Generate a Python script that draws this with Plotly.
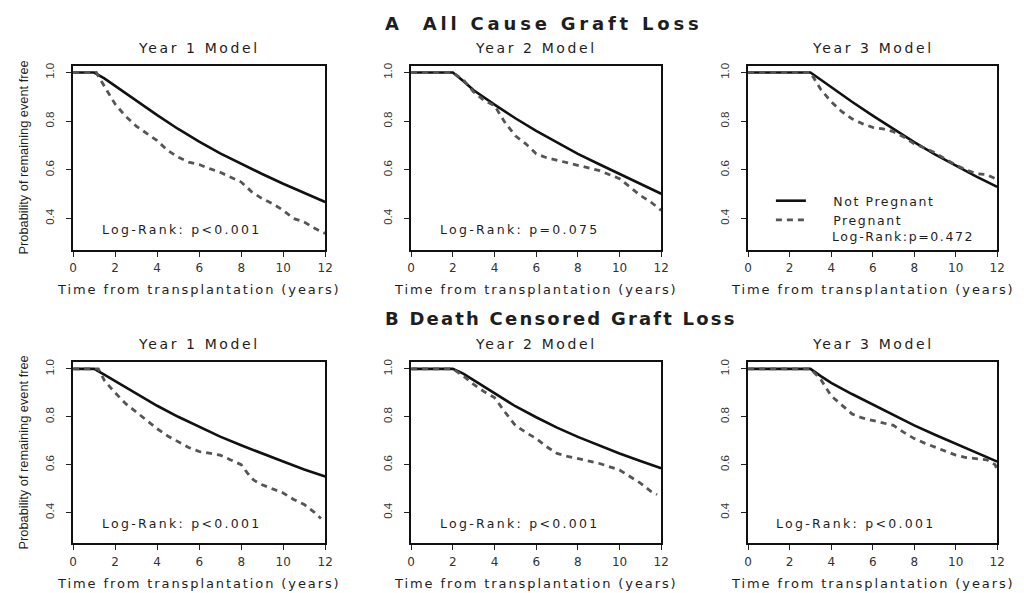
import plotly.graph_objects as go

# ---- Kaplan-Meier style survival estimates (probability of remaining event free) ----
# A: All cause graft loss
a1_not_t = [0, 1, 1.5, 2, 3, 4, 5, 6, 7, 8, 9, 10, 11, 12]
a1_not_s = [1, 1, 0.975, 0.945, 0.884, 0.825, 0.768, 0.716, 0.668, 0.624, 0.583, 0.543, 0.505, 0.468]
a1_prg_t = [0, 1.1, 1.3, 2, 2.5, 3, 3.5, 4, 4.5, 5, 5.5, 6, 6.5, 7, 7.5, 8, 8.5, 9, 9.5, 10, 10.5, 11, 11.5, 12]
a1_prg_s = [1, 1, 0.97, 0.87, 0.82, 0.78, 0.75, 0.72, 0.68, 0.652, 0.632, 0.622, 0.605, 0.59, 0.57, 0.55,
            0.51, 0.482, 0.461, 0.434, 0.40, 0.386, 0.36, 0.339]

a2_not_t = [0, 2, 2.5, 3, 4, 5, 6, 7, 8, 9, 10, 11, 12]
a2_not_s = [1, 1, 0.965, 0.927, 0.868, 0.812, 0.76, 0.712, 0.666, 0.624, 0.584, 0.542, 0.502]
a2_prg_t = [0, 2, 2.5, 3, 3.5, 4, 4.5, 5, 5.5, 6, 6.5, 7, 8, 9, 10, 10.5, 11, 11.5, 12]
a2_prg_s = [1, 1, 0.97, 0.92, 0.885, 0.864, 0.795, 0.74, 0.707, 0.666, 0.65, 0.64, 0.618, 0.598, 0.564,
            0.53, 0.495, 0.468, 0.434]

a3_not_t = [0, 3, 3.5, 4, 5, 6, 7, 8, 9, 10, 11, 12]
a3_not_s = [1, 1, 0.97, 0.939, 0.88, 0.823, 0.767, 0.714, 0.664, 0.618, 0.572, 0.53]
a3_prg_t = [0, 3, 3.5, 4, 4.5, 5, 5.5, 6, 6.5, 7, 7.5, 8, 8.5, 9, 9.5, 10, 10.5, 11, 11.5, 12]
a3_prg_s = [1, 1, 0.93, 0.88, 0.84, 0.81, 0.79, 0.775, 0.768, 0.757, 0.735, 0.707, 0.69, 0.67, 0.645,
            0.62, 0.60, 0.585, 0.58, 0.56]

# B: Death censored graft loss
b1_not_t = [0, 1, 1.5, 2, 3, 4, 5, 6, 7, 8, 9, 10, 11, 12]
b1_not_s = [1, 1, 0.975, 0.949, 0.895, 0.846, 0.80, 0.757, 0.717, 0.681, 0.646, 0.613, 0.58, 0.551]
b1_prg_t = [0, 1.2, 1.5, 2, 2.5, 3, 3.5, 4, 4.5, 5, 5.5, 6, 6.5, 7, 7.5, 8, 8.3, 8.6, 9, 9.5, 10, 10.5,
            11, 11.5, 11.8]
b1_prg_s = [1, 1, 0.95, 0.90, 0.855, 0.82, 0.785, 0.75, 0.72, 0.695, 0.672, 0.655, 0.648, 0.64, 0.62,
            0.60, 0.565, 0.535, 0.516, 0.50, 0.482, 0.455, 0.434, 0.40, 0.375]

b2_not_t = [0, 2, 2.5, 3, 4, 5, 6, 7, 8, 9, 10, 11, 12]
b2_not_s = [1, 1, 0.98, 0.953, 0.896, 0.844, 0.798, 0.755, 0.716, 0.68, 0.647, 0.615, 0.585]
b2_prg_t = [0, 2, 2.5, 3, 3.5, 4, 4.5, 5, 5.5, 6, 6.5, 7, 7.5, 8, 9, 10, 10.5, 11, 11.5, 11.8]
b2_prg_s = [1, 1, 0.97, 0.935, 0.905, 0.88, 0.82, 0.764, 0.735, 0.709, 0.675, 0.647, 0.635, 0.626,
            0.606, 0.578, 0.55, 0.523, 0.489, 0.475]

b3_not_t = [0, 3, 3.5, 4, 5, 6, 7, 8, 9, 10, 11, 12]
b3_not_s = [1, 1, 0.97, 0.942, 0.895, 0.851, 0.807, 0.764, 0.725, 0.688, 0.65, 0.613]
b3_prg_t = [0, 3, 3.5, 4, 4.5, 5, 5.5, 6, 6.5, 7, 7.5, 8, 8.5, 9, 9.5, 10, 10.5, 11, 11.5, 11.9, 12]
b3_prg_s = [1, 1, 0.956, 0.887, 0.85, 0.812, 0.795, 0.784, 0.775, 0.764, 0.735, 0.709, 0.69, 0.674,
            0.656, 0.64, 0.63, 0.626, 0.62, 0.60, 0.578]

panel_titles = ["Year 1 Model", "Year 2 Model", "Year 3 Model"]
row_titles = ["A\u00a0 All Cause Graft Loss", "B Death Censored Graft Loss"]
row_title_spacing = [3.8, 2.2]
log_rank = ["Log-Rank: p<0.001", "Log-Rank: p=0.075", "Log-Rank:p=0.472",
            "Log-Rank: p<0.001", "Log-Rank: p<0.001", "Log-Rank: p<0.001"]
x_ticks = [0, 2, 4, 6, 8, 10, 12]
y_ticks = [0.4, 0.6, 0.8, 1.0]
y_tick_text = ["0.4", "0.6", "0.8", "1.0"]
x_title = "Time from transplantation (years)"
y_title = "Probability of remaining event free"
legend_names = ["Not Pregnant", "Pregnant"]

curves = [
    (a1_not_t, a1_not_s, a1_prg_t, a1_prg_s),
    (a2_not_t, a2_not_s, a2_prg_t, a2_prg_s),
    (a3_not_t, a3_not_s, a3_prg_t, a3_prg_s),
    (b1_not_t, b1_not_s, b1_prg_t, b1_prg_s),
    (b2_not_t, b2_not_s, b2_prg_t, b2_prg_s),
    (b3_not_t, b3_not_s, b3_prg_t, b3_prg_s),
]

W, H = 1024, 593
col_px = [(70, 325), (412, 665), (753, 1005)]
row_px = [(63, 248), (361, 543)]
Y_RANGE = [0.272, 1.028]

SANS = "DejaVu Sans"
ARIAL = "Liberation Sans"
TXT = "#1e1e1e"
PAD = "\u00a0" * 4


def spaced(text, px):
    return f'<span style="letter-spacing:{px}px">{text}</span>'


fig = go.Figure()
annotations = []

for i, (nt, ns, pt, ps) in enumerate(curves):
    r, c = divmod(i, 3)
    k = "" if i == 0 else str(i + 1)
    x0, x1 = col_px[c]
    y0, y1 = row_px[r]
    xdom = [x0 / W, x1 / W]
    ydom = [1 - y1 / H, 1 - y0 / H]
    axis_common = dict(
        showline=True, mirror=True, linecolor="#111", linewidth=1.8,
        ticks="outside", ticklen=5, tickwidth=1.2, tickcolor="#222",
        showgrid=False, zeroline=False,
    )
    fig.update_layout({
        f"xaxis{k}": dict(domain=xdom, range=[0, 12], tickvals=x_ticks, anchor=f"y{k}",
                          tickfont=dict(family=SANS, size=12, color="#333"),
                          ticklabelstandoff=1, **axis_common),
        f"yaxis{k}": dict(domain=ydom, range=Y_RANGE, tickvals=y_ticks, ticktext=y_tick_text,
                          anchor=f"x{k}", tickangle=-90,
                          tickfont=dict(family=ARIAL, size=11.5, color="#333"),
                          ticklabelstandoff=8, **axis_common),
    })
    show = (i == 2)
    fig.add_trace(go.Scatter(
        x=nt, y=ns, mode="lines", xaxis=f"x{k}", yaxis=f"y{k}",
        line=dict(color="#111", width=2.6),
        name=spaced(PAD + legend_names[0], 1.6),
        showlegend=show, legendrank=1))
    fig.add_trace(go.Scatter(
        x=pt, y=ps, mode="lines", xaxis=f"x{k}", yaxis=f"y{k}",
        line=dict(color="#555", width=2.8, dash="6px,5px"),
        name=spaced(PAD + legend_names[1], 1.6),
        showlegend=show, legendrank=2))

    # panel title
    annotations.append(dict(
        text=spaced(panel_titles[c], 2.6), xref="paper", yref="paper",
        x=(x0 + x1) / 2 / W, y=1 - (y0 - 18) / H, xanchor="center", yanchor="middle",
        showarrow=False, font=dict(family=SANS, size=14, color=TXT)))
    # x-axis title
    annotations.append(dict(
        text=spaced(x_title, 1.9), xref="paper", yref="paper",
        x=(x0 + x1) / 2 / W, y=1 - (y1 + 40) / H, xanchor="center", yanchor="middle",
        showarrow=False, font=dict(family=SANS, size=13, color=TXT)))
    # log-rank statistic
    if i == 2:
        annotations.append(dict(
            text=spaced(log_rank[i], 1.6), xref=f"x{k}", yref=f"y{k}", x=3.95, y=0.328,
            xanchor="left", yanchor="middle", showarrow=False,
            font=dict(family=SANS, size=12.5, color=TXT)))
    else:
        annotations.append(dict(
            text=spaced(log_rank[i], 2.3), xref=f"x{k}", yref=f"y{k}", x=5.2, y=0.355,
            xanchor="center", yanchor="middle", showarrow=False,
            font=dict(family=SANS, size=12.5, color=TXT)))
    # y-axis title (first column only)
    if c == 0:
        annotations.append(dict(
            text=y_title, xref="paper", yref="paper", textangle=-90,
            x=20 / W, y=1 - (y0 + y1) / 2 / H, xanchor="center", yanchor="middle",
            showarrow=False, font=dict(family=ARIAL, size=12.8, color=TXT)))

# row headings
for r, title in enumerate(row_titles):
    annotations.append(dict(
        text="<b>" + spaced(title, row_title_spacing[r]) + "</b>", xref="paper", yref="paper",
        x=383 / W, y=1 - (21 + 296 * r) / H, xanchor="left", yanchor="middle",
        showarrow=False, font=dict(family=SANS, size=18, color=TXT)))

fig.update_layout(
    width=W, height=H, margin=dict(l=0, r=0, t=0, b=0),
    paper_bgcolor="white", plot_bgcolor="white",
    annotations=annotations,
    legend=dict(x=776 / W, y=1 - 184 / H, xanchor="left", yanchor="top",
                bgcolor="rgba(0,0,0,0)", borderwidth=0,
                tracegroupgap=0, font=dict(family=SANS, size=12.5, color=TXT)),
)

fig.write_html("out.html")
